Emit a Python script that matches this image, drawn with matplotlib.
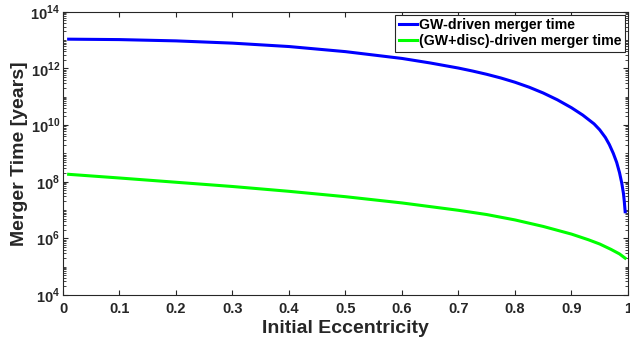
import numpy as np
import matplotlib
matplotlib.use("Agg")
import matplotlib.pyplot as plt
from matplotlib.ticker import LogLocator, NullFormatter

plt.rcParams['font.family'] = ['Liberation Sans', 'DejaVu Sans']
plt.rcParams['font.weight'] = 'bold'
plt.rcParams['mathtext.fontset'] = 'custom'
plt.rcParams['mathtext.rm'] = 'Liberation Sans:bold'
plt.rcParams['mathtext.bf'] = 'Liberation Sans:bold'

# eccentricity samples and log10 merger time
e_gw = [0.01, 0.1, 0.2, 0.3, 0.4, 0.5, 0.6, 0.65, 0.7, 0.725, 0.75, 0.775, 0.8,
        0.825, 0.85, 0.875, 0.9, 0.92, 0.94, 0.95, 0.96, 0.967, 0.974, 0.98,
        0.985, 0.989, 0.992, 0.9935, 0.995]
logt_gw = [13.03, 13.015, 12.97, 12.89, 12.77, 12.59, 12.35, 12.19, 12.01, 11.905, 11.79, 11.66, 11.51,
           11.335, 11.13, 10.89, 10.61, 10.35, 10.04, 9.83, 9.56, 9.31, 9.00, 8.68,
           8.32, 7.95, 7.58, 7.30, 6.94]

e_disc = [0.01, 0.1, 0.2, 0.3, 0.4, 0.5, 0.6, 0.7, 0.75, 0.8, 0.85, 0.9,
          0.93, 0.95, 0.97, 0.985, 0.995]
logt_disc = [8.26, 8.13, 7.98, 7.83, 7.66, 7.47, 7.25, 6.99, 6.84, 6.65, 6.42, 6.15,
             5.95, 5.80, 5.61, 5.45, 5.30]

t_gw = 10.0 ** np.array(logt_gw)
t_disc = 10.0 ** np.array(logt_disc)

yticks = [1e4, 1e6, 1e8, 1e10, 1e12, 1e14]
ylabels = [r'$10^{4}$', r'$10^{6}$', r'$10^{8}$', r'$10^{10}$', r'$10^{12}$', r'$10^{14}$']
xticks = [0, 0.1, 0.2, 0.3, 0.4, 0.5, 0.6, 0.7, 0.8, 0.9, 1]
xlabels = ['0', '0.1', '0.2', '0.3', '0.4', '0.5', '0.6', '0.7', '0.8', '0.9', '1']

fig = plt.figure(figsize=(6.3, 3.49), dpi=100)
ax = fig.add_axes([0.1, 0.1547, 0.8968, 0.8118])

ax.semilogy(e_gw, t_gw, color=(0, 0, 1), lw=2.2, label='GW-driven merger time')
ax.semilogy(e_disc, t_disc, color=(0, 1, 0), lw=2.2, label='(GW+disc)-driven merger time')

ax.set_xlim(0, 1)
ax.set_ylim(1e4, 1e14)
ax.set_xticks(xticks)
ax.set_xticklabels(xlabels)
ax.set_yticks(yticks)
ax.set_yticklabels(ylabels)
ax.yaxis.set_minor_locator(LogLocator(base=10, subs=np.arange(1, 10), numticks=30))
ax.yaxis.set_minor_formatter(NullFormatter())

ax.tick_params(which='both', direction='in', top=True, right=True, colors='0.15',
               labelcolor='0.15', labelsize=10.5)
ax.tick_params(which='major', length=3.5)
ax.tick_params(which='minor', length=2)
ax.tick_params(axis='y', pad=2)
ax.tick_params(axis='x', pad=5)
for s in ax.spines.values():
    s.set_color('0.15')

ax.set_xlabel('Initial Eccentricity', fontsize=14, fontweight='bold', color='0.15', labelpad=3)
ax.set_ylabel('Merger Time [years]', fontsize=14, fontweight='bold', color='0.15', labelpad=2)

leg = ax.legend(loc='upper right', fontsize=10.2, fancybox=False, framealpha=1,
                edgecolor='0.15', borderaxespad=0.2, handlelength=1.3,
                handletextpad=0.15, borderpad=0.25, labelspacing=0.15)
leg.get_frame().set_linewidth(0.8)

fig.savefig('out.png', dpi=100)
